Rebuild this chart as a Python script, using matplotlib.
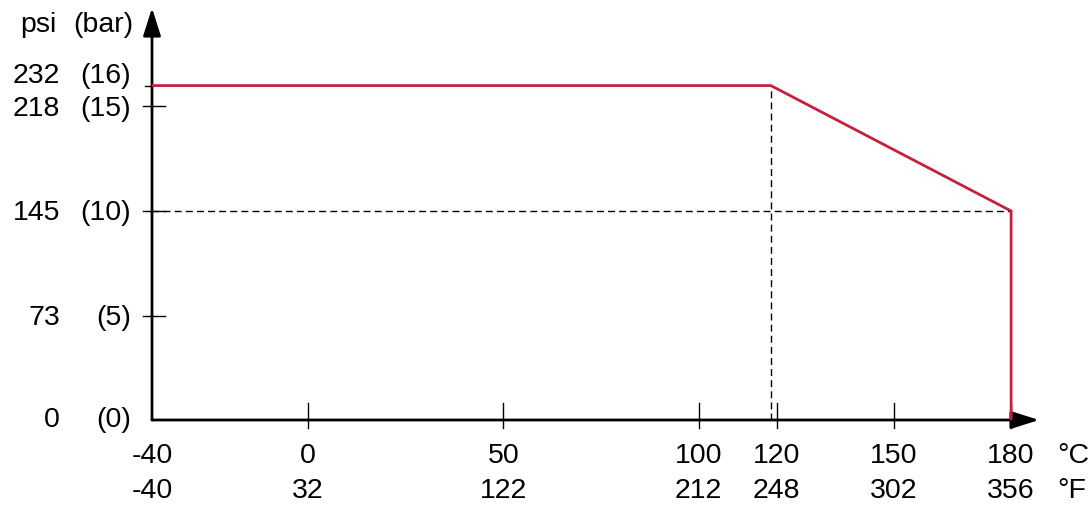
import matplotlib.pyplot as plt

plt.rcParams['font.family'] = ['Liberation Sans', 'DejaVu Sans']

# pressure / temperature rating curve
temp_c = [-40, 118.5, 180, 180]
pressure_bar = [16, 16, 10, 0]

# x axis ticks (°C) and matching °F labels
c_ticks = [-40, 0, 50, 100, 120, 150, 180]
f_labels = ['-40', '32', '122', '212', '248', '302', '356']

# y axis ticks (bar) and matching psi labels
bar_ticks = [0, 5, 10, 15, 16]
psi_labels = ['0', '73', '145', '218', '232']

red = '#C4213F'
W, H = 1092, 511
px_x = 3.905   # pixels per °C
px_y = 20.9    # pixels per bar
fs = 20.5

fig = plt.figure(figsize=(W / 100, H / 100), dpi=100)
ax = fig.add_axes([152 / W, (H - 420) / H, (1045 - 152) / W, 420 / H])
ax.set_xlim(-40, -40 + (1045 - 152) / px_x)
ax.set_ylim(0, 420 / px_y)
ax.axis('off')

x0 = -40
def dx(p):
    return p / px_x
def dy(p):
    return p / px_y

# axes with arrow heads
arrow = dict(arrowstyle='-|>,head_length=17,head_width=5.4', mutation_scale=1,
             lw=2, color='black', shrinkA=0, shrinkB=0)
ax.annotate('', xy=(x0 + dx(887), 0), xytext=(x0, 0), arrowprops=arrow,
            annotation_clip=False)
ax.annotate('', xy=(x0, dy(412)), xytext=(x0, 0), arrowprops=arrow,
            annotation_clip=False)

# dashed guide lines
ax.plot([temp_c[1], temp_c[1]], [0, pressure_bar[1]], color='black', lw=1,
        ls=(0, (5, 3)), zorder=2)
ax.plot([x0, temp_c[2]], [pressure_bar[2], pressure_bar[2]], color='black', lw=1,
        ls=(0, (5, 3)), zorder=2)

# rating curve
ax.plot(temp_c, pressure_bar, color=red, lw=2, zorder=4, solid_joinstyle='miter')

# x ticks and labels
for c, f in zip(c_ticks, f_labels):
    if c != -40:
        ax.plot([c, c], [-dy(8), dy(17)], color='black', lw=1, clip_on=False, zorder=3)
    ax.text(c, -dy(36), str(c), ha='center', va='center', fontsize=fs)
    ax.text(c, -dy(71), f, ha='center', va='center', fontsize=fs)
ax.text(x0 + dx(905), -dy(36), '°C', ha='left', va='center', fontsize=fs)
ax.text(x0 + dx(905), -dy(71), '°F', ha='left', va='center', fontsize=fs)

# y ticks and labels
for b, p in zip(bar_ticks, psi_labels):
    if b == 16:
        ax.plot([x0 - dx(7), x0], [b, b], color='black', lw=1, clip_on=False)
        yl = b + dy(10)
    elif b == 0:
        yl = b
    else:
        ax.plot([x0 - dx(9), x0 + dx(13)], [b, b], color='black', lw=1, clip_on=False)
        yl = b - dy(2)
    ax.text(x0 - dx(92), yl, p, ha='right', va='center', fontsize=fs)
    ax.text(x0 - dx(21), yl, '(%d)' % b, ha='right', va='center', fontsize=fs)

ax.text(x0 - dx(96), dy(395), 'psi', ha='right', va='center', fontsize=fs)
ax.text(x0 - dx(19), dy(395), '(bar)', ha='right', va='center', fontsize=fs)

fig.savefig('out.png', dpi=100)
